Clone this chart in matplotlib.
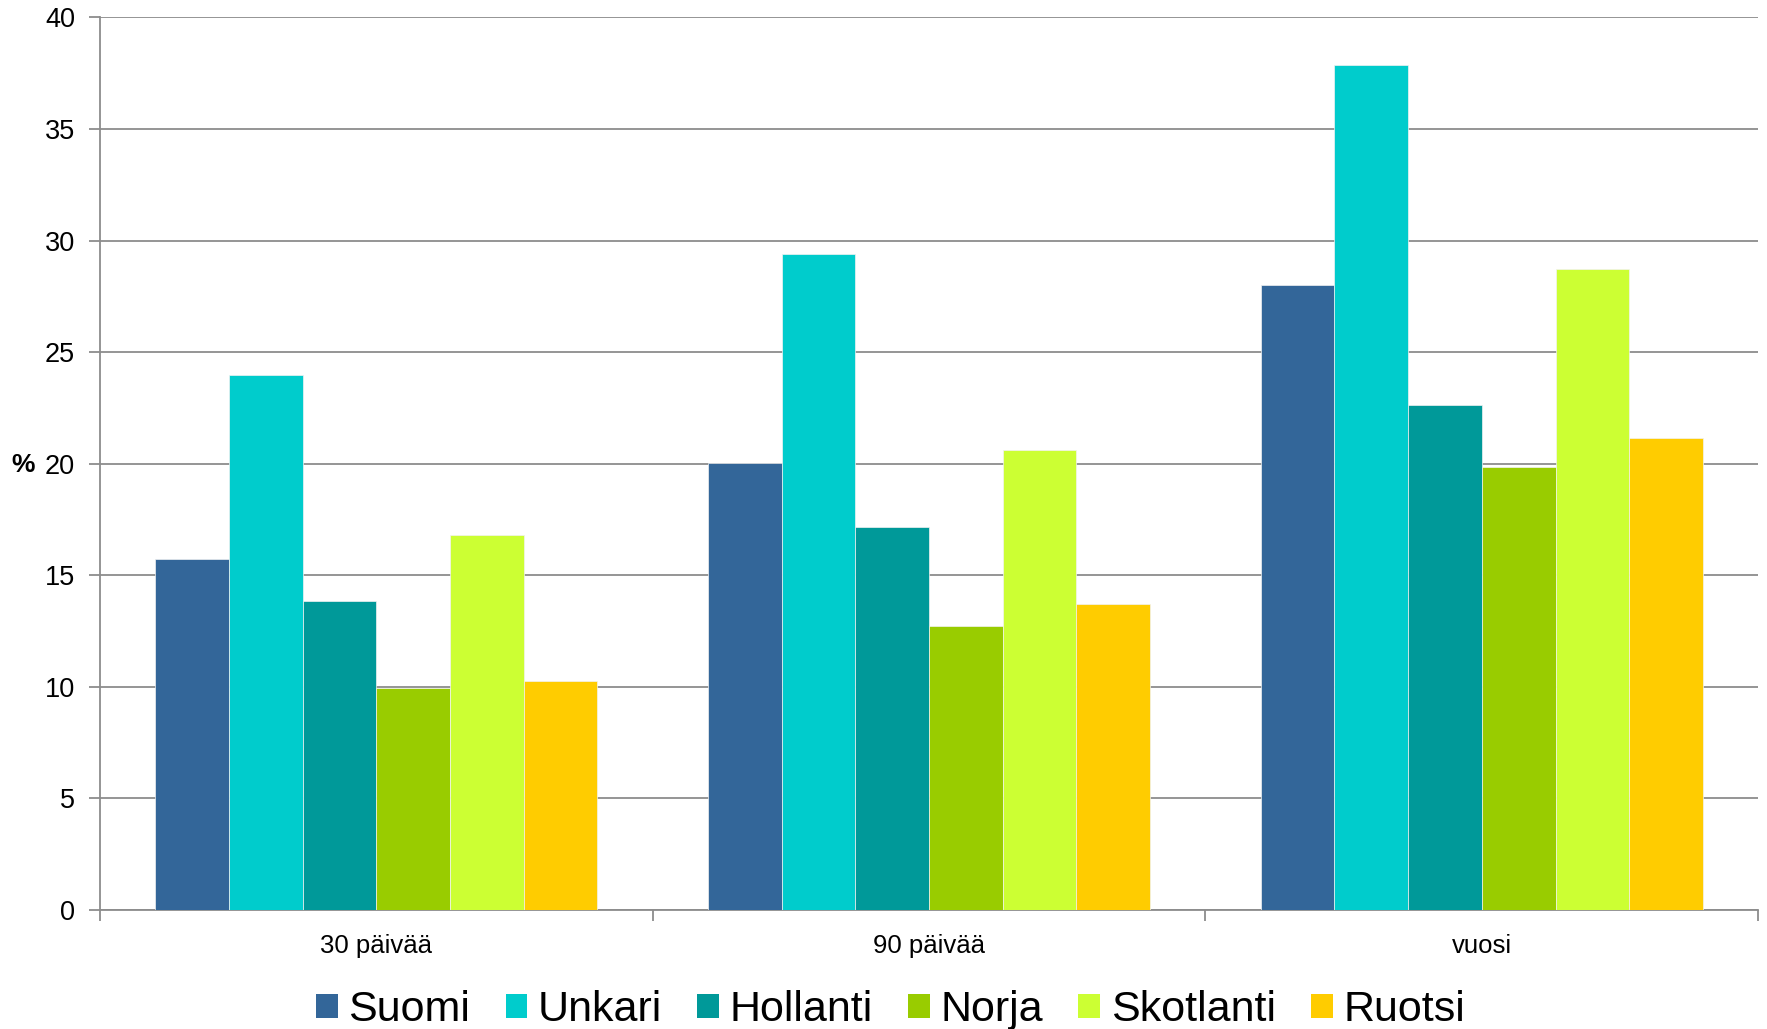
import matplotlib
matplotlib.use("Agg")
import matplotlib.pyplot as plt
import numpy as np

plt.rcParams['font.family'] = ['Liberation Sans', 'DejaVu Sans']

categories = ["30 päivää", "90 päivää", "vuosi"]
series_names = ["Suomi", "Unkari", "Hollanti", "Norja", "Skotlanti", "Ruotsi"]
suomi = [15.75, 20.05, 28.0]
unkari = [24.0, 29.4, 37.85]
hollanti = [13.85, 17.15, 22.65]
norja = [9.95, 12.75, 19.85]
skotlanti = [16.8, 20.6, 28.75]
ruotsi = [10.25, 13.7, 21.15]
colors = ["#336699", "#00CCCC", "#009999", "#99CC00", "#CCFF33", "#FFCC00"]
y_ticks = [0, 5, 10, 15, 20, 25, 30, 35, 40]

values = [suomi, unkari, hollanti, norja, skotlanti, ruotsi]

fig = plt.figure(figsize=(17.67, 10.29), dpi=100)
ax = fig.add_axes([0.0566, 0.1156, 0.9384, 0.8674])

grid_c = "#8c8c8c"
n = len(series_names)
group_w = 0.8
bw = group_w / n
x = np.arange(len(categories))
for i, (name, vals, c) in enumerate(zip(series_names, values, colors)):
    offs = -group_w / 2 + bw * (i + 0.5)
    ax.bar(x + offs, vals, width=bw, color=c, label=name,
           edgecolor="#f2f2f2", linewidth=0.5, zorder=3)

ax.set_xlim(-0.5, len(categories) - 0.5)
ax.set_ylim(0, 40)
ax.set_yticks(y_ticks)
ax.yaxis.grid(True, color=grid_c, linewidth=1.3, zorder=0)
ax.set_axisbelow(True)

ax.set_xticks(x)
ax.set_xticklabels(categories, fontsize=18.5)
ax.set_xticks(np.arange(-0.5, len(categories)), minor=True)
ax.tick_params(axis='x', which='major', length=0, pad=17)
ax.tick_params(axis='x', which='minor', length=8, width=1.3, color=grid_c)
ax.tick_params(axis='y', length=8, width=1.3, color=grid_c, labelsize=19.5, pad=10)

for s in ["top", "right"]:
    ax.spines[s].set_visible(False)
for s in ["left", "bottom"]:
    ax.spines[s].set_color(grid_c)
    ax.spines[s].set_linewidth(1.3)

fig.text(0.0065, 0.548, "%", fontsize=19, fontweight="bold", va="center", ha="left")

leg = fig.legend(loc="center", bbox_to_anchor=(0.504, 0.018), ncol=6,
                 fontsize=31, frameon=False, handlelength=0.5, handleheight=0.5,
                 handletextpad=0.25, columnspacing=0.82, borderaxespad=0)
for h in leg.legend_handles:
    h.set_edgecolor("none")

fig.savefig("out.png", dpi=100)
